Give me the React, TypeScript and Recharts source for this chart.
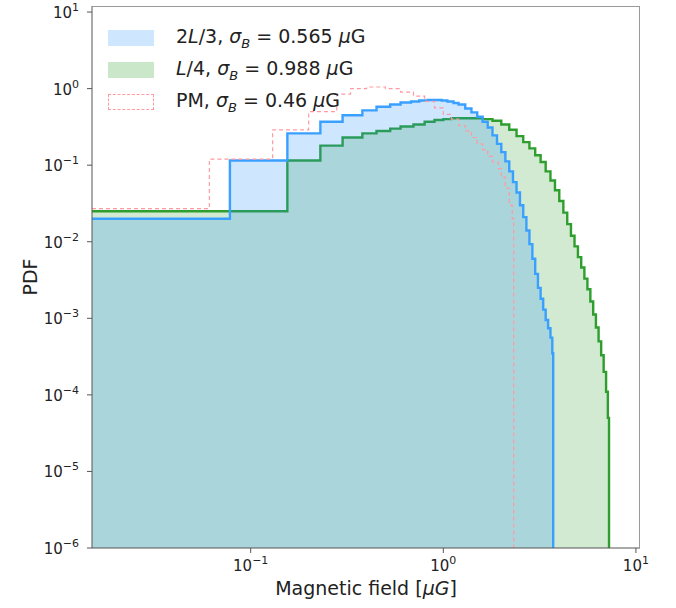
import React from 'react';
import { ComposedChart, Area, XAxis, YAxis } from 'recharts';

const blueX = [0.015,0.078,0.155,0.23,0.3,0.38,0.45,0.53,0.6,0.68,0.75,0.83,0.9,0.98,1.05,1.13,1.2,1.3,1.4,1.5,1.6,1.7,1.8,1.9,2.0,2.1,2.2,2.3,2.4,2.5,2.6,2.7,2.8,2.9,3.0,3.1,3.2,3.3,3.4,3.5,3.6,3.68,3.72];
const blueY = [0.02,0.115,0.26,0.37,0.45,0.52,0.58,0.62,0.66,0.68,0.7,0.71,0.71,0.7,0.68,0.65,0.62,0.55,0.49,0.43,0.37,0.31,0.245,0.19,0.148,0.112,0.083,0.06,0.044,0.03,0.021,0.014,0.0093,0.006,0.0038,0.0025,0.0018,0.0013,0.00095,0.00074,0.00056,0.00035,1e-6];
const greenX = [0.015,0.155,0.23,0.3,0.38,0.45,0.53,0.6,0.7,0.8,0.9,1.0,1.1,1.2,1.3,1.4,1.6,1.8,2.0,2.2,2.4,2.6,2.8,3.0,3.2,3.4,3.6,3.8,4.0,4.2,4.4,4.6,4.8,5.0,5.2,5.4,5.6,5.8,6.0,6.2,6.4,6.6,6.8,7.0,7.15,7.25];
const greenY = [0.025,0.115,0.18,0.23,0.26,0.28,0.3,0.32,0.34,0.37,0.39,0.4,0.41,0.41,0.41,0.41,0.4,0.38,0.34,0.29,0.24,0.2,0.166,0.135,0.11,0.083,0.063,0.047,0.034,0.024,0.017,0.012,0.0087,0.0063,0.0046,0.0033,0.0024,0.00166,0.00112,0.00076,0.0005,0.00033,0.0002,0.00011,0.00005,1e-6];
const pmX = [0.015,0.061,0.13,0.2,0.28,0.33,0.4,0.5,0.6,0.7,0.8,0.9,1.0,1.1,1.2,1.3,1.4,1.5,1.6,1.7,1.8,1.93,2.0,2.1,2.2,2.28,2.32];
const pmY = [0.027,0.12,0.29,0.5,0.85,1.0,1.05,1.0,0.9,0.8,0.68,0.56,0.46,0.4,0.33,0.28,0.23,0.19,0.16,0.13,0.11,0.09,0.07,0.05,0.03,0.02,1e-6];

const blueData = blueX.map((x, i) => ({ x, y: blueY[i] }));
const greenData = greenX.map((x, i) => ({ x, y: greenY[i] }));
const pmData = pmX.map((x, i) => ({ x, y: pmY[i] }));

const xTicks = [0.1, 1, 10];
const xExp = ['−1', '0', '1'];
const yTicks = [1e-6, 1e-5, 1e-4, 1e-3, 1e-2, 1e-1, 1, 10];
const yExp = ['−6', '−5', '−4', '−3', '−2', '−1', '0', '1'];

const FONT = 'DejaVu Sans';

const XTick = (p: any) => {
  const i = xTicks.findIndex(t => Math.abs(t - p.payload.value) < 1e-9);
  return (
    <text x={p.x} y={p.y + 16} textAnchor="middle" fontFamily={FONT} fontSize={15} fill="#222">
      10<tspan dy={-7} fontSize={11}>{xExp[i]}</tspan>
    </text>
  );
};
const YTick = (p: any) => {
  const i = yTicks.findIndex(t => Math.abs(Math.log10(t) - Math.log10(p.payload.value)) < 1e-6);
  return (
    <text x={p.x - 6} y={p.y + 6} textAnchor="end" fontFamily={FONT} fontSize={15} fill="#222">
      10<tspan dy={-7} fontSize={11}>{yExp[i]}</tspan>
    </text>
  );
};

const sub = (t: string) => <sub style={{ fontSize: 13 }}><i>{t}</i></sub>;
const legendItems = [
  { fill: 'rgba(30,144,255,0.22)', stroke: 'none', dash: false, label: <>2<i>L</i>/3, <i>σ</i>{sub('B')} = 0.565 <i>μ</i>G</> },
  { fill: 'rgba(44,160,44,0.25)', stroke: 'none', dash: false, label: <><i>L</i>/4, <i>σ</i>{sub('B')} = 0.988 <i>μ</i>G</> },
  { fill: 'none', stroke: '#ff9aa2', dash: true, label: <>PM, <i>σ</i>{sub('B')} = 0.46 <i>μ</i>G</> },
];

export default function App() {
  return (
    <div style={{ position: 'absolute', left: 0, top: 0, width: 676, height: 608, background: '#fff' }}>
      <ComposedChart width={676} height={608} margin={{ top: 6, right: 36, bottom: 30, left: 0 }}>
        <XAxis dataKey="x" type="number" scale="log" domain={[0.015, 10.5]} allowDataOverflow ticks={xTicks}
          tick={<XTick />} stroke="#555" tickSize={5} height={30} />
        <YAxis type="number" scale="log" domain={[1e-6, 12]} allowDataOverflow ticks={yTicks} tick={<YTick />}
          width={92} stroke="#555" tickSize={5} />
        <Area data={greenData} dataKey="y" type="stepAfter" baseValue={1e-6} fill="#2ca02c" fillOpacity={0.22}
          stroke="#2e9e2e" strokeWidth={2.4} isAnimationActive={false} />
        <Area data={blueData} dataKey="y" type="stepAfter" baseValue={1e-6} fill="#1e90ff" fillOpacity={0.22}
          stroke="#3aa0ff" strokeWidth={2.4} isAnimationActive={false} />
        <Area data={pmData} dataKey="y" type="stepAfter" baseValue={1e-6} fill="none"
          stroke="#ff9aa2" strokeWidth={1.2} strokeDasharray="4 3" isAnimationActive={false} />
      </ComposedChart>
      <div style={{ position: 'absolute', left: 92, top: 6, width: 548, height: 542, border: '1px solid #999', borderLeft: 'none', borderBottom: 'none', boxSizing: 'border-box', pointerEvents: 'none' }} />
      <div style={{ position: 'absolute', left: 0, width: 676, top: 577, textAlign: 'center', paddingLeft: 92, boxSizing: 'border-box', paddingRight: 36, fontFamily: FONT, fontSize: 19, color: '#222' }}>
        Magnetic field [<i>μG</i>]
      </div>
      <div style={{ position: 'absolute', left: 30, top: 277, transform: 'translate(-50%,-50%) rotate(-90deg)', fontFamily: FONT, fontSize: 19, color: '#222' }}>PDF</div>
      <div style={{ position: 'absolute', left: 108, top: 22, fontFamily: FONT, fontSize: 19, color: '#222' }}>
        {legendItems.map((it, k) => (
          <div key={k} style={{ display: 'flex', alignItems: 'center', height: 32 }}>
            <div style={{ width: 46, height: 16, background: it.fill === 'none' ? 'transparent' : it.fill,
              border: it.dash ? `1.2px dashed ${it.stroke}` : 'none', boxSizing: 'border-box', marginRight: 22 }} />
            <span>{it.label}</span>
          </div>
        ))}
      </div>
    </div>
  );
}
